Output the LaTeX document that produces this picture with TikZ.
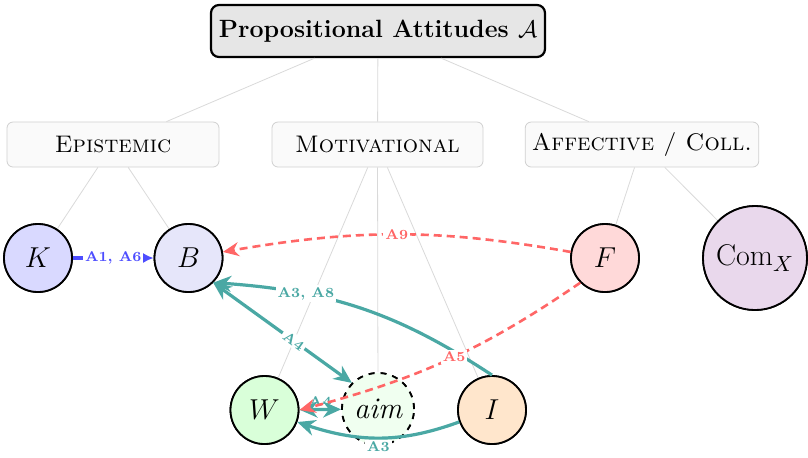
\documentclass[tikz,border=0pt]{standalone}
\usepackage{fontspec}
\usetikzlibrary{arrows.meta,bending}
\definecolor{tealc}{HTML}{4AA8A4}
\definecolor{redc}{HTML}{FF6666}
\definecolor{bluec}{HTML}{4D4DFF}
\definecolor{treec}{HTML}{D9D9D9}
\definecolor{catfill}{HTML}{FAFAFA}
\definecolor{catdraw}{HTML}{D0D0D0}
\definecolor{titlefill}{HTML}{E6E6E6}
\definecolor{kfill}{HTML}{D9D9FF}
\definecolor{bfill}{HTML}{E6E6FA}
\definecolor{ffill}{HTML}{FFD9D9}
\definecolor{comfill}{HTML}{E9D8EC}
\definecolor{wfill}{HTML}{D9FFD9}
\definecolor{aimfill}{HTML}{F0FFF0}
\definecolor{ifill}{HTML}{FFE6CC}
\tikzset{
  titlebox/.style={draw=black, line width=1.1pt, rounded corners=4pt, fill=titlefill,
    minimum width=167pt, minimum height=26pt, inner xsep=2.5pt,
    font=\fontsize{12.5}{15}\selectfont\bfseries},
  catbox/.style={draw=catdraw, line width=0.4pt, rounded corners=3pt, fill=catfill,
    minimum height=22.5pt, font=\fontsize{12}{14}\selectfont\scshape},
  att/.style={circle, draw=black, line width=0.9pt, minimum size=34pt, inner sep=0pt,
    font=\fontsize{15}{17}\selectfont},
  tree/.style={draw=treec, line width=0.4pt},
  lab/.style={font=\fontsize{7}{8}\selectfont\bfseries, fill=white, inner sep=1pt},
  tealarrow/.style={draw=tealc, line width=1.6pt, -{Stealth[length=9pt,width=8pt,bend]}},
  redarrow/.style={draw=redc, line width=1.3pt, dashed, dash pattern=on 4pt off 2.5pt,
    -{Stealth[length=8pt,width=7pt,bend]}},
}
\begin{document}
\begin{tikzpicture}[x=0.5pt,y=-0.5pt]
\useasboundingbox (0,0) rectangle (808,457);
% nodes
\node[titlebox] (A) at (378,31) {Propositional Attitudes $\mathcal{A}$};
\node[catbox, minimum width=106pt] (Ep) at (113,144.5) {Epistemic};
\node[catbox, minimum width=105.5pt] (Mo) at (377.5,144.5) {Motivational};
\node[catbox, minimum width=116pt] (Af) at (642,144.5) {Affective / Coll.};
\node[att, fill=kfill] (K) at (38,258) {$K$};
\node[att, fill=bfill] (B) at (188.5,258) {$B$};
\node[att, fill=ffill] (F) at (605,258) {$F$};
\node[att, fill=comfill, minimum size=52pt] (C) at (755,258) {Com$_X$};
\node[att, fill=wfill] (W) at (264.5,410) {$W$};
\node[att, fill=aimfill, dashed, minimum size=36pt] (aim) at (378,409) {$\mathit{aim}$};
\node[att, fill=ifill] (I) at (492,410) {$I$};
% tree
\draw[tree] (A) -- (Ep);
\draw[tree] (A) -- (Mo);
\draw[tree] (A) -- (Af);
\draw[tree] (Ep) -- (K);
\draw[tree] (Ep) -- (B);
\draw[tree] (Mo) -- (W);
\draw[tree] (Mo) -- (aim);
\draw[tree] (Mo) -- (I);
\draw[tree] (Af) -- (F);
\draw[tree] (Af) -- (C);
% redraw nodes over tree lines
\node[att, fill=kfill] at (K) {$K$};
\node[att, fill=bfill] at (B) {$B$};
\node[att, fill=ffill] at (F) {$F$};
\node[att, fill=comfill, minimum size=52pt] at (C) {Com$_X$};
\node[att, fill=wfill] at (W) {$W$};
\node[att, fill=aimfill, dashed, minimum size=36pt] at (aim) {$\mathit{aim}$};
\node[att, fill=ifill] at (I) {$I$};
% relations
\draw[draw=bluec, line width=1.6pt, -{Latex[length=6pt,width=6pt]}] (K) -- node[lab, text=bluec] {A1, A6} (B);
\draw[tealarrow] (I.north) to[bend right=15] node[lab, text=tealc, pos=0.7] {A3, A8} (B.south east);
\draw[tealarrow, {Stealth[length=9pt,width=8pt]}-{Stealth[length=9pt,width=8pt]}] (B.south east) -- node[lab, text=tealc, sloped, pos=0.58] {A4} (aim.north west);
\draw[tealarrow, {Stealth[length=9pt,width=8pt]}-{Stealth[length=9pt,width=8pt]}] (W) -- node[lab, text=tealc, above, fill=none, inner sep=0.5pt] {A4} (aim);
\draw[tealarrow] (I) to[bend left=20] node[lab, text=tealc, below] {A3} (W);
\draw[redarrow] (F) to[bend right=10] node[lab, text=redc] {A9} (B);
\draw[redarrow] (F.south west) to[bend left=10] node[lab, text=redc, pos=0.47] {A5} (W.east);
\end{tikzpicture}
\end{document}
